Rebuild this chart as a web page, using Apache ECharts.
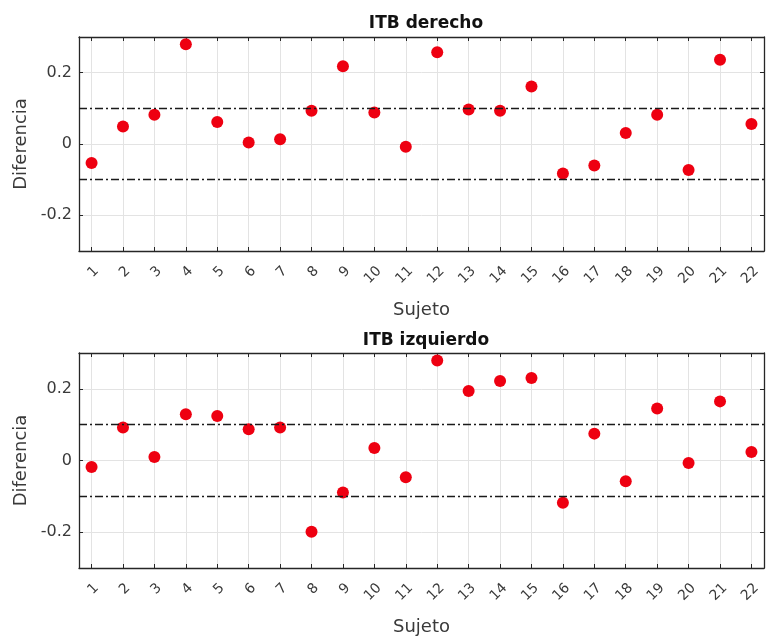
<!DOCTYPE html>
<html><head><meta charset="utf-8">
<script src="https://cdn.jsdelivr.net/npm/echarts@6/dist/echarts.min.js"></script>
<style>html,body{margin:0;padding:0;background:#fff}#c{width:766px;height:639px}</style>
</head><body><div id="c"></div>
<script>
const subjects = [1,2,3,4,5,6,7,8,9,10,11,12,13,14,15,16,17,18,19,20,21,22];
const derecho = [-0.053,0.049,0.082,0.280,0.062,0.004,0.013,0.093,0.218,0.088,-0.008,0.257,0.097,0.093,0.161,-0.083,-0.060,0.031,0.082,-0.073,0.236,0.056];
const izquierdo = [-0.018,0.092,0.010,0.129,0.124,0.087,0.092,-0.199,-0.089,0.035,-0.047,0.279,0.194,0.222,0.230,-0.118,0.075,-0.058,0.145,-0.007,0.165,0.024];
const yTicks = [-0.2, 0, 0.2];
const limitLines = [-0.1, 0.1];
const titles = ['ITB derecho', 'ITB izquierdo'];
const xName = 'Sujeto';
const yName = 'Diferencia';

const FONT = 'DejaVu Sans, sans-serif';
const grids = [
  {left: 79, top: 37, width: 685, height: 214},
  {left: 79, top: 353, width: 685, height: 215}
];
const axisColor = '#262626';
const gridColor = '#e3e3e3';
const labelColor = '#3a3a3a';

const xAxes = [], yAxes = [], series = [];
[derecho, izquierdo].forEach((vals, g) => {
  xAxes.push({
    gridIndex: g, type: 'value', min: 0.6, max: 22.4, position: 'bottom',
    axisLine: {show: true, onZero: false, lineStyle: {color: axisColor, width: 1.3}},
    axisTick: {show: true, inside: true, length: 4, customValues: subjects, lineStyle: {color: axisColor}},
    axisLabel: {show: true, customValues: subjects, rotate: 45, margin: 13, align: 'right', verticalAlign: 'top',
      fontSize: 14, color: labelColor, fontFamily: FONT},
    splitLine: {show: true, lineStyle: {color: gridColor, width: 1}},
    name: xName, nameLocation: 'middle', nameGap: 50,
    nameTextStyle: {fontSize: 18, color: labelColor, fontFamily: FONT}
  });
  xAxes.push({
    gridIndex: g, type: 'value', min: 0.6, max: 22.4, position: 'top',
    axisLine: {show: true, onZero: false, lineStyle: {color: axisColor, width: 1.3}},
    axisTick: {show: true, inside: true, length: 4, customValues: subjects, lineStyle: {color: axisColor}},
    axisLabel: {show: false},
    splitLine: {show: false}
  });
  yAxes.push({
    gridIndex: g, type: 'value', min: -0.3, max: 0.3, position: 'left',
    axisLine: {show: true, onZero: false, lineStyle: {color: axisColor, width: 1.3}},
    axisTick: {show: true, inside: true, length: 4, customValues: yTicks, lineStyle: {color: axisColor}},
    axisLabel: {show: true, customValues: yTicks, margin: 7, fontSize: 16, color: labelColor, fontFamily: FONT,
      formatter: v => (Math.abs(v) < 1e-9 ? '0' : String(+v.toFixed(1)))},
    splitLine: {show: true, lineStyle: {color: gridColor, width: 1}},
    name: yName, nameLocation: 'middle', nameGap: 48, nameRotate: 90,
    nameTextStyle: {fontSize: 18, color: labelColor, fontFamily: FONT}
  });
  yAxes.push({
    gridIndex: g, type: 'value', min: -0.3, max: 0.3, position: 'right',
    axisLine: {show: true, onZero: false, lineStyle: {color: axisColor, width: 1.3}},
    axisTick: {show: true, inside: true, length: 4, customValues: yTicks, lineStyle: {color: axisColor}},
    axisLabel: {show: false},
    splitLine: {show: false}
  });
  series.push({
    type: 'scatter', xAxisIndex: g * 2, yAxisIndex: g * 2,
    data: subjects.map((s, i) => [s, vals[i]]),
    symbol: 'circle', symbolSize: 12,
    itemStyle: {color: '#ee0011', opacity: 1},
    z: 3,
    markLine: {
      silent: true, symbol: 'none', animation: false,
      label: {show: false},
      lineStyle: {color: '#1a1a1a', width: 1.3, type: [8, 3, 2, 3]},
      data: limitLines.map(v => ({yAxis: v}))
    }
  });
});

const chart = echarts.init(document.getElementById('c'), null, {renderer: 'canvas'});
chart.setOption({
  animation: false,
  backgroundColor: '#fff',
  title: titles.map((t, i) => ({
    text: t, left: 421, top: i === 0 ? 10 : 327, textAlign: 'center',
    textStyle: {fontSize: 17, fontWeight: 'bold', color: '#111', fontFamily: FONT}
  })),
  grid: grids,
  xAxis: xAxes,
  yAxis: yAxes,
  series: series
});
</script></body></html>
